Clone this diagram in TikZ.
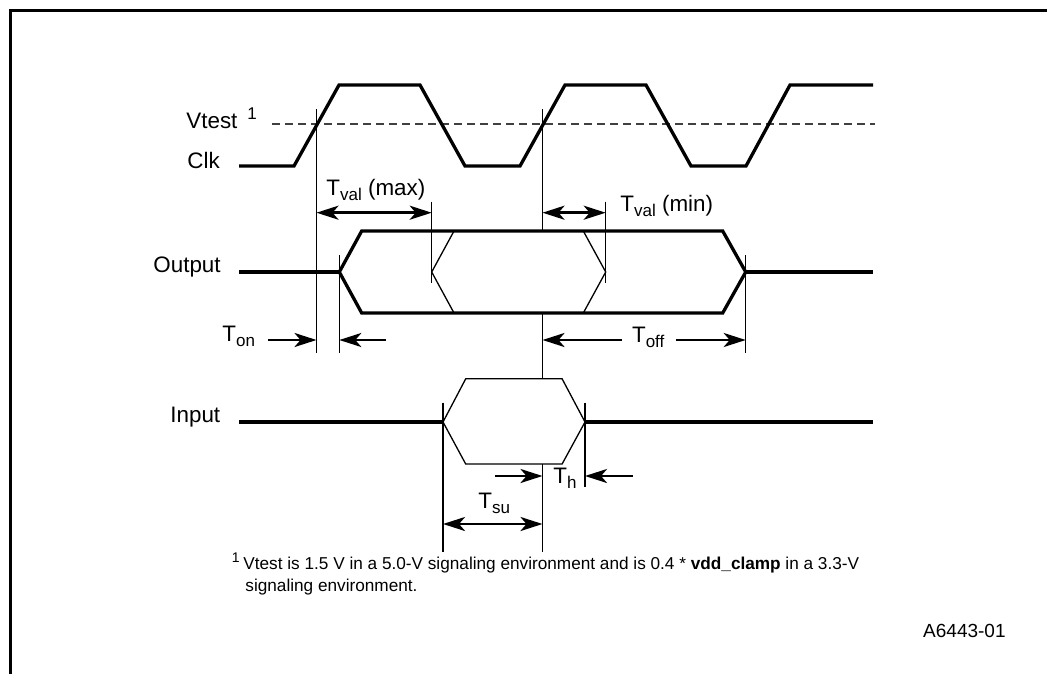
\documentclass[tikz,border=0pt]{standalone}
\usepackage{fontspec}
\setmainfont{Liberation Sans}
\usetikzlibrary{arrows.meta}

\newcommand{\tsub}[1]{\raisebox{-2.6pt}{\fontsize{8.5}{10}\selectfont #1}}

\begin{document}
\begin{tikzpicture}[x=0.5pt,y=-0.5pt]

   %Styles of lines, arrows and labels
   \tikzstyle{signal} = [line width=1.65pt, line join=miter]
   \tikzstyle{thin} = [line width=0.65pt]
   \tikzstyle{vtest} = [line width=0.8pt, black!75, dash pattern=on 4pt off 2.5pt]
   \tikzstyle{arrow} = [line width=1.35pt, -{Stealth[length=11pt,width=7pt,inset=3pt]}]
   \tikzstyle{dblarrow} = [line width=1.35pt, {Stealth[length=11pt,width=7pt,inset=3pt]}-{Stealth[length=11pt,width=7pt,inset=3pt]}]
   \tikzstyle{lbl} = [anchor=base west, inner sep=0pt, font=\fontsize{11.2}{13}\selectfont]
   \tikzstyle{note} = [anchor=base west, inner sep=0pt, font=\fontsize{8.6}{11}\selectfont]

   \useasboundingbox (0,0) rectangle (1047,674);

   %Frame
   \draw[line width=1.5pt] (10,674) -- (10,11) -- (1047,11);

   %Time marks
   \coordinate (ta) at (316.5,0);
   \coordinate (tb) at (542.5,0);
   \coordinate (ton) at (339.3,0);
   \coordinate (tmax) at (431.7,0);
   \coordinate (tmin) at (605.7,0);
   \coordinate (toff) at (745.7,0);
   \coordinate (tsu) at (443,0);
   \coordinate (th) at (585,0);

   %Labels
   \node[lbl] (vtest) at (186,128) {Vtest \,\raisebox{4.5pt}{\fontsize{8.5}{10}\selectfont 1}};
   \node[lbl] (clk) at (187,168) {Clk};
   \node[lbl] (output) at (153,272.5) {Output};
   \node[lbl] (input) at (170,422) {Input};

   %Clock
   \draw[vtest] (272,124) -- (875,124);
   \draw[signal] (239,166) -- (294,166) -- (339,85) -- (420,85) -- (465,166) -- (520,166)
      -- (565,85) -- (646,85) -- (691,166) -- (746,166) -- (790,85) -- (873,85);

   %Output
   \draw[signal] (239,272) -- (ton |- 0,272);
   \draw[signal] (ton |- 0,272) -- (361.7,231) -- (722.7,231) -- (toff |- 0,272)
      -- (722.7,313) -- (361.7,313) -- cycle;
   \draw[signal] (toff |- 0,272) -- (873,272);
   \draw[thin] (454,231) -- (tmax |- 0,272) -- (454,313);
   \draw[thin] (583.3,231) -- (tmin |- 0,272) -- (583.3,313);

   %Input
   \draw[signal] (239.4,422) -- (tsu |- 0,422);
   \draw[signal] (th |- 0,422) -- (873,422);
   \draw[thin] (tsu |- 0,422) -- (465.7,378.8) -- (562.1,378.8) -- (th |- 0,422)
      -- (562.1,464) -- (465.7,464) -- cycle;

   %Reference lines
   \draw[thin] (ta |- 0,109) -- (ta |- 0,353);
   \draw[thin] (tb |- 0,109) -- (tb |- 0,231);
   \draw[thin] (tb |- 0,313) -- (tb |- 0,378.8);
   \draw[thin] (tb |- 0,464) -- (tb |- 0,552);
   \draw[thin] (ton |- 0,255) -- (ton |- 0,353);
   \draw[thin] (toff |- 0,255) -- (toff |- 0,353);
   \draw[thin] (tmax |- 0,201.7) -- (tmax |- 0,283.3);
   \draw[thin] (tmin |- 0,201.7) -- (tmin |- 0,283.3);
   \draw[thin] (tsu |- 0,402.6) -- (tsu |- 0,552);
   \draw[thin] (th |- 0,402.6) -- (th |- 0,486.7);

   %Timing labels
   \node[lbl] (tvalmax) at (326,195) {T\tsub{val} (max)};
   \node[lbl] (tvalmin) at (620,211.7) {T\tsub{val} (min)};
   \node[lbl] (tonlbl) at (222,341.5) {T\tsub{on}};
   \node[lbl] (tofflbl) at (631.7,342) {T\tsub{off}};
   \node[lbl] (thlbl) at (553,483) {T\tsub{h}};
   \node[lbl] (tsulbl) at (478,508) {T\tsub{su}};

   %Arrows
   \draw[dblarrow] (ta |- 0,212.7) -- (tmax |- 0,212.7);
   \draw[dblarrow] (tb |- 0,212.7) -- (tmin |- 0,212.7);
   \draw[arrow] (268.3,340) -- (ta |- 0,340);
   \draw[arrow] (386,340) -- (ton |- 0,340);
   \draw[arrow] (621.7,340) -- (tb |- 0,340);
   \draw[arrow] (675.7,340) -- (toff |- 0,340);
   \draw[arrow] (495,476) -- (tb |- 0,476);
   \draw[arrow] (633,476) -- (th |- 0,476);
   \draw[dblarrow] (tsu |- 0,524) -- (tb |- 0,524);

   %Footnote
   \node[note] (fnline1) at (243,569) {Vtest is 1.5 V in a 5.0-V signaling environment and is 0.4 * \textbf{vdd\_clamp} in a 3.3-V};
   \node[note] (fnline2) at (245,591) {signaling environment.};
   \node[anchor=base east, inner sep=0pt, font=\fontsize{7}{8}\selectfont] (fnmark) at ([xshift=-1.5pt,yshift=3.5pt]fnline1.base west) {1};
   \node[anchor=base east, inner sep=0pt, font=\fontsize{9.5}{11}\selectfont] (figid) at (1006,637) {A6443-01};

\end{tikzpicture}
\end{document}
